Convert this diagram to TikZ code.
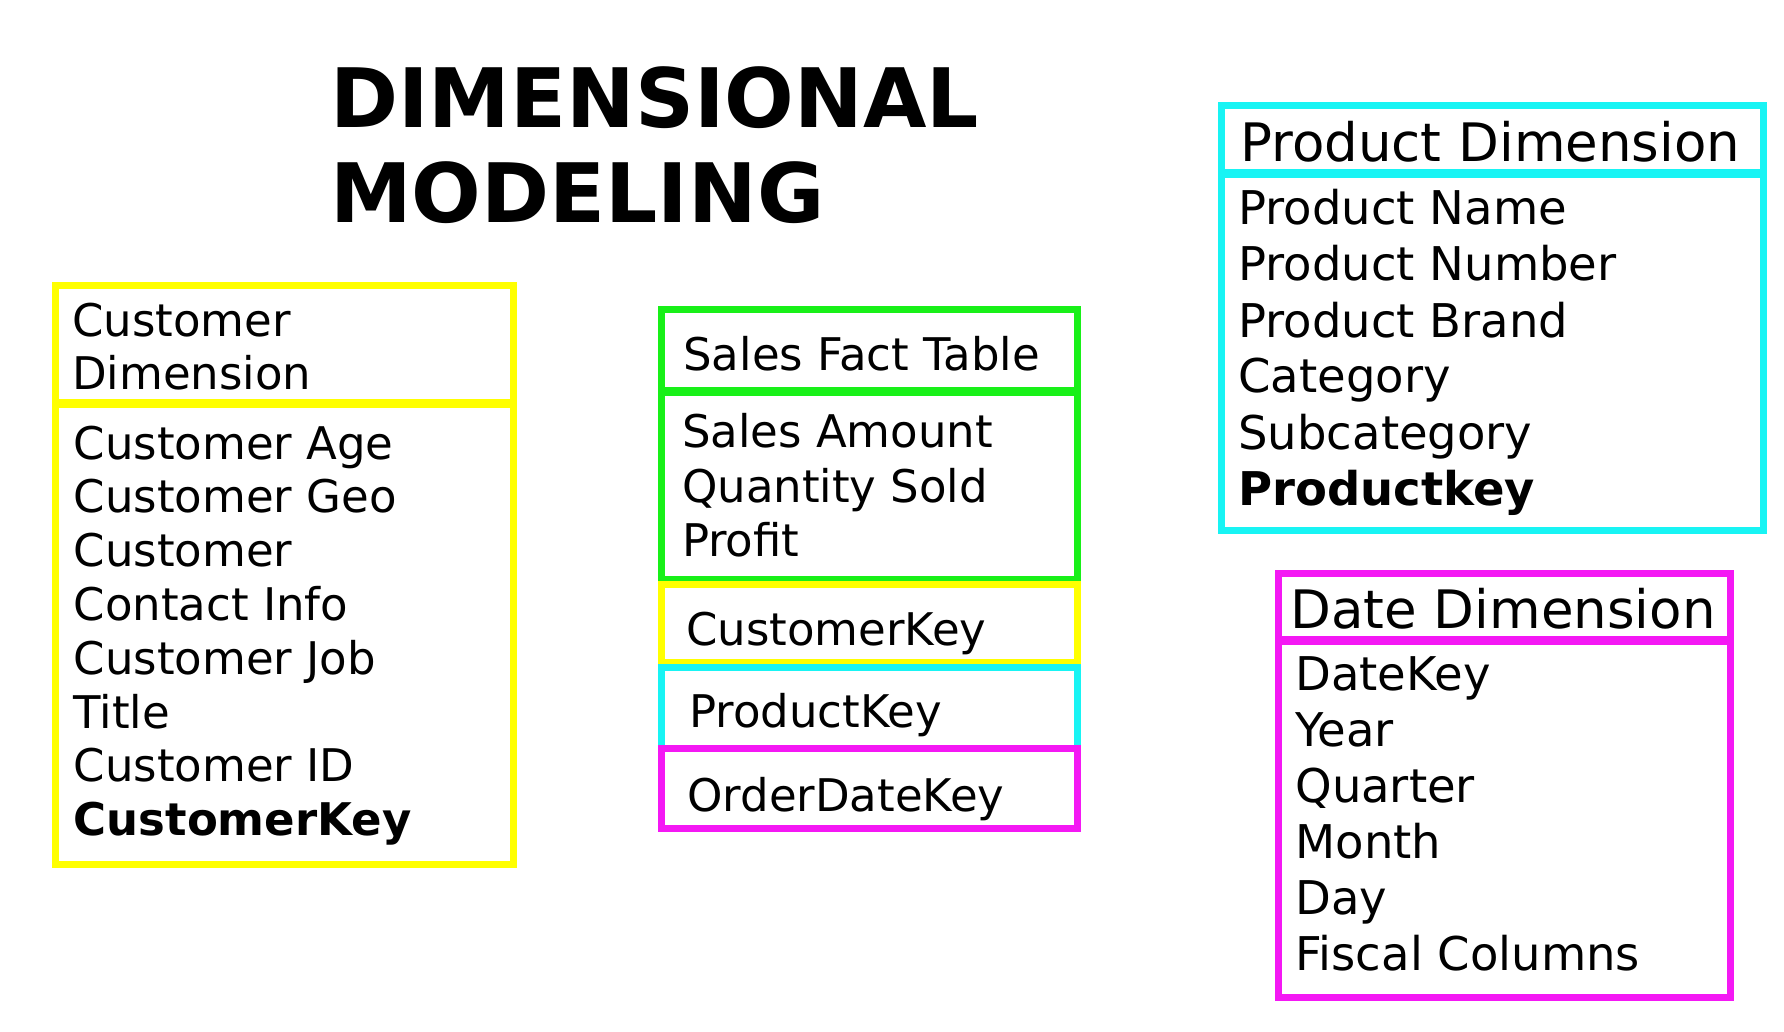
\documentclass[tikz,border=0pt]{standalone}
\usepackage{fontspec}
\setmainfont{DejaVu Sans}
\definecolor{custyellow}{RGB}{255,255,0}
\definecolor{factgreen}{RGB}{24,240,24}
\definecolor{prodcyan}{RGB}{24,244,244}
\definecolor{datemagenta}{RGB}{244,24,244}
\tikzset{
  tablebox/.style={draw=#1,line width=3.5pt},
  field/.style={anchor=base west,inner sep=0pt,font=\fontsize{22.5}{27}\selectfont},
  keyfield/.style={field,font=\fontsize{22.5}{27}\selectfont\bfseries},
  bigfield/.style={field,font=\fontsize{23.25}{28}\selectfont},
  bigkeyfield/.style={field,font=\fontsize{23.25}{28}\selectfont\bfseries},
  header/.style={field,font=\fontsize{26.5}{32}\selectfont},
  titletext/.style={field,font=\fontsize{41}{48}\selectfont\bfseries}
}
\begin{document}
\begin{tikzpicture}[x=0.5pt,y=-0.5pt]
\useasboundingbox (0,0) rectangle (1784,1032);
\node[titletext] (title-a) at (330,128) {DIMENSIONAL};
\node[titletext] (title-b) at (330,223) {MODELING};

\draw[tablebox=custyellow] (55.5,286) rectangle (513,402);
\draw[tablebox=custyellow] (55.5,404) rectangle (513,864.5);
\node[field] (cust-h1) at (71.7,336) {Customer};
\node[field] (cust-h2) at (71.7,389) {Dimension};
\foreach \t [count=\i from 0] in {Customer Age,Customer Geo,Customer,Contact Info,Customer Job,Title,Customer ID}
  \node[field] (cust-\i) at (73.3,459+53.8*\i) {\t};
\node[keyfield] (cust-key) at (73.3,835.6) {CustomerKey};

\draw[tablebox=factgreen] (661,309.5) rectangle (1077.5,390.5);
\draw[tablebox=factgreen] (661,392.5) rectangle (1077.5,579);
\draw[tablebox=custyellow] (661,584) rectangle (1077.5,662.5);
\draw[tablebox=prodcyan] (661,667.5) rectangle (1077.5,748.5);
\draw[tablebox=datemagenta] (661,748.5) rectangle (1077.5,828);
\node[field] (fact-h) at (683,371) {Sales Fact Table};
\foreach \t [count=\i from 0] in {Sales Amount,Quantity Sold,Profit}
  \node[field] (fact-\i) at (681.7,447.3+54.7*\i) {\t};
\node[field] (fact-cust) at (686,645) {CustomerKey};
\node[field] (fact-prod) at (689,727) {ProductKey};
\node[field] (fact-date) at (687,811.7) {OrderDateKey};

\draw[tablebox=prodcyan] (1221.7,106) rectangle (1763.5,173);
\draw[tablebox=prodcyan] (1221.7,175) rectangle (1763.5,530);
\node[header] (prod-h) at (1240,161.7) {Product Dimension};
\foreach \t [count=\i from 0] in {Product Name,Product Number,Product Brand,Category,Subcategory}
  \node[bigfield] (prod-\i) at (1238,225+56*\i) {\t};
\node[bigkeyfield] (prod-key) at (1238,505) {Productkey};

\draw[tablebox=datemagenta] (1278,573) rectangle (1730.5,639);
\draw[tablebox=datemagenta] (1278,641) rectangle (1730.5,997.5);
\node[header] (date-h) at (1290,628.3) {Date Dimension};
\foreach \t [count=\i from 0] in {DateKey,Year,Quarter,Month,Day,Fiscal Columns}
  \node[bigfield] (date-\i) at (1295,690.7+56*\i) {\t};
\end{tikzpicture}
\end{document}
